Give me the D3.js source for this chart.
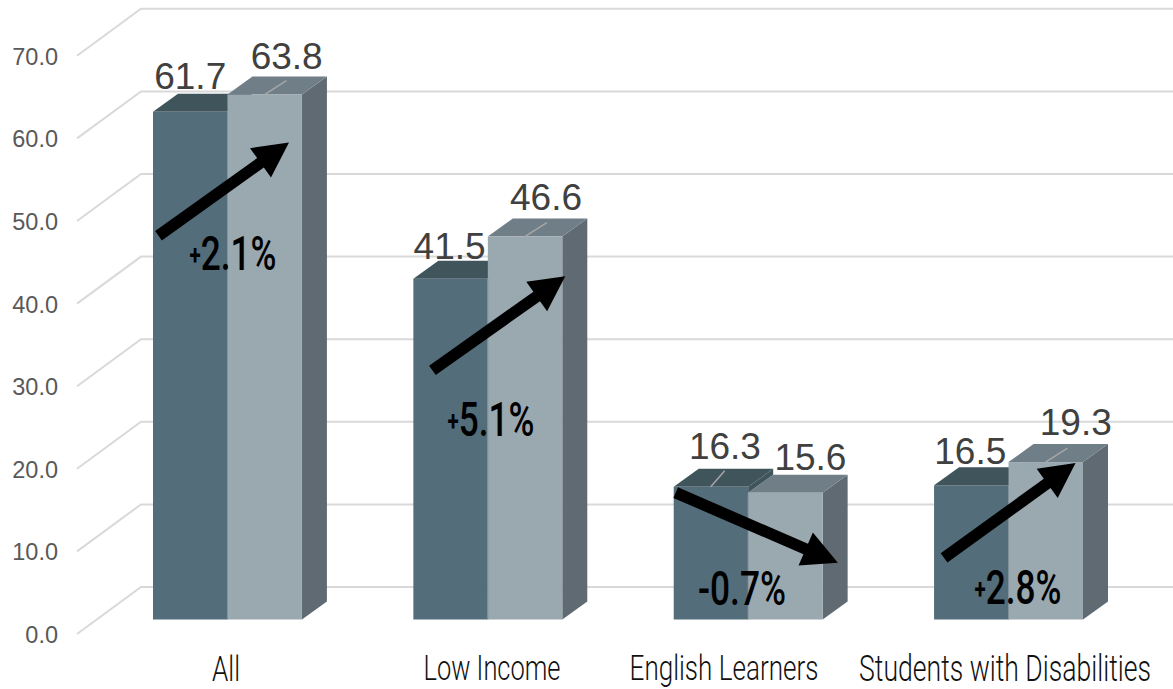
<!DOCTYPE html>
<html>
<head>
<meta charset="utf-8">
<script src="https://cdn.jsdelivr.net/npm/d3@7"></script>
<style>
html, body { margin: 0; padding: 0; background: #fff; overflow: hidden; }
svg { display: block; }
</style>
</head>
<body>
<svg id="chart" width="1173" height="689"></svg>
<script>
// values
var categories = ["All", "Low Income", "English Learners", "Students with Disabilities"];
var before = [61.7, 41.5, 16.3, 16.5];
var after = [63.8, 46.6, 15.6, 19.3];
var changes = ["2.1%", "5.1%", "-0.7%", "2.8%"];
var changeSigns = ["+", "+", "", "+"];
var tickValues = [0, 10, 20, 30, 40, 50, 60, 70];

// arrow ends: share of the group width, value on the y scale
var arrowFromX = [0.037, 0.128, 0.013, 0.067];
var arrowFromY = [46.7, 30.4, 15.6, 7.7];
var arrowToX = [0.913, 1.02, 1.102, 0.95];
var arrowToY = [58.0, 41.8, 7.1, 19.2];

// hand placed text, as in the original slide
var beforeLabelDx = [0, -1, 14, -1];
var beforeLabelDy = [23, 20, 28, 21];
var afterLabelDx = [22, 21, 25, 30];
var afterLabelDy = [26, 27, 23, 27];
var categoryX = [226, 492, 724, 1005];
var categoryY = [681, 680, 680, 681];
var categoryW = [28, 137, 189, 292];
var changeX = [233, 491, 742, 1018];
var changeW = [87, 87, 88, 87];
var changeY = [270, 436, 605, 604];

var colors = {
    grid: "#d9d9d9", tick: "#595959", value: "#404040",
    leftFront: "#546d7a", leftTop: "#40545b",
    rightFront: "#9aa8b0", rightTop: "#707f87", rightSide: "#5f6a72",
    leader: "#a6a6a6"
};

var svg = d3.select("#chart");
var cond = "Roboto, 'Liberation Sans Narrow', sans-serif";
var sans = "'Liberation Sans', Arial, sans-serif";

var depthX = 25, depthY = 18;       // bar depth
var y = d3.scaleLinear().domain([0, 70]).range([621.5, 621.5 - 8.26 * 70]);
var floorY = 619.5;
var yFront = y.copy().range(y.range().map(d => d + 12.5));
var yBack = y.copy().range(y.range().map(d => d - 34.5));
var xFront = 77, xBack = 141;

var x0 = d3.scaleBand().domain(categories).range([153, 1083]).paddingInner(0.428).paddingOuter(0);
var x1 = d3.scaleBand().domain(["before", "after"]).range([0, x0.bandwidth()]);

// grid: floor and wall lines
var grid = svg.append("g").attr("stroke", colors.grid).attr("stroke-width", 2).attr("fill", "none");
grid.selectAll("path").data(tickValues).join("path")
    .attr("d", d => "M" + xFront + "," + yFront(d) + "L" + xBack + "," + yBack(d) + "L1173," + yBack(d));

// y axis
var axis = svg.append("g").attr("transform", "translate(58,1)")
    .call(d3.axisLeft(yFront).tickValues(tickValues).tickSize(0).tickPadding(0).tickFormat(d3.format(".1f")));
axis.select(".domain").remove();
axis.selectAll("text").attr("fill", colors.tick).style("font-family", sans).style("font-size", "23.5px");

function poly(g, pts, fill) {
    g.append("polygon").attr("points", pts.map(p => p.join(",")).join(" ")).attr("fill", fill);
}

// one box, front + top + side
function drawBox(g, left, w, v, front, top, side) {
    var t = y(v), b = floorY;
    if (side) poly(g, [[left + w, t], [left + w + depthX, t - depthY], [left + w + depthX, b - depthY], [left + w, b]], side);
    poly(g, [[left, t], [left + depthX, t - depthY], [left + w + depthX, t - depthY], [left + w, t]], top);
    g.append("rect").attr("x", left).attr("y", t).attr("width", w).attr("height", b - t).attr("fill", front);
}

categories.forEach(function (c, i) {
    var g = svg.append("g");
    var left = x0(c), w = x1.bandwidth();
    var lx = left + x1("before"), rx = left + x1("after");
    drawBox(g, lx, w, before[i], colors.leftFront, colors.leftTop, null);
    drawBox(g, rx, w, after[i], colors.rightFront, colors.rightTop, colors.rightSide);
    // left box stands higher: its side shows above the right box
    if (before[i] > after[i]) {
        var a = y(before[i]), e = y(after[i]);
        poly(g, [[rx, a], [rx + depthX, a - depthY], [rx + depthX, e - depthY], [rx, e]], colors.leftTop);
    }
    // thin seam between boxes
    g.append("line").attr("x1", rx).attr("x2", rx)
        .attr("y1", y(Math.min(before[i], after[i]))).attr("y2", floorY)
        .attr("stroke", "#7f929c").attr("stroke-width", 1);
});

// leader lines left on the bar tops
var leaders = [[0, "after"], [1, "after"], [2, "before"], [3, "after"]];
svg.append("g").selectAll("line").data(leaders).join("line")
    .attr("stroke", colors.leader).attr("stroke-width", 1.5)
    .attr("x1", d => x0(categories[d[0]]) + x1(d[1]) + 37)
    .attr("y1", d => y(d[1] == "before" ? before[d[0]] : after[d[0]]))
    .attr("x2", d => x0(categories[d[0]]) + x1(d[1]) + (d[1] == "before" ? 51 : 59))
    .attr("y2", d => y(d[1] == "before" ? before[d[0]] : after[d[0]]) - (d[1] == "before" ? 16 : 14));

// value labels
function valueLabels(vals, series, dx, dy) {
    svg.append("g").selectAll("text").data(vals).join("text")
        .attr("x", (d, i) => x0(categories[i]) + x1(series) + x1.bandwidth() / 2 + dx[i])
        .attr("y", (d, i) => y(d) - dy[i])
        .attr("text-anchor", "middle")
        .attr("fill", colors.value)
        .style("font-family", sans).style("font-size", "37px")
        .text(d => d.toFixed(1));
}
valueLabels(before, "before", beforeLabelDx, beforeLabelDy);
valueLabels(after, "after", afterLabelDx, afterLabelDy);

// arrows
var shaft = 11.5, headW = 36, headL = 35;
svg.append("g").selectAll("polygon").data(categories).join("polygon")
    .attr("fill", "#000")
    .attr("points", function (c, i) {
        var ax = x0(c) + arrowFromX[i] * x0.bandwidth(), ay = y(arrowFromY[i]);
        var bx = x0(c) + arrowToX[i] * x0.bandwidth(), by = y(arrowToY[i]);
        var len = Math.hypot(bx - ax, by - ay), ux = (bx - ax) / len, uy = (by - ay) / len;
        var nx = -uy, ny = ux, hx = bx - ux * headL, hy = by - uy * headL;
        return [
            [ax + nx * shaft / 2, ay + ny * shaft / 2],
            [hx + nx * shaft / 2, hy + ny * shaft / 2],
            [hx + nx * headW / 2, hy + ny * headW / 2],
            [bx, by],
            [hx - nx * headW / 2, hy - ny * headW / 2],
            [hx - nx * shaft / 2, hy - ny * shaft / 2],
            [ax - nx * shaft / 2, ay - ny * shaft / 2]
        ].map(p => p.join(",")).join(" ");
    });

// squeeze a label to the width it has in the picture
function squeeze(sel, cx, by, w) {
    var len = sel.node().getComputedTextLength();
    sel.attr("text-anchor", "middle").attr("transform", "translate(" + cx + "," + by + ") scale(" + (w / len) + ",1)");
}

// category names
categories.forEach(function (c, i) {
    var t = svg.append("text").attr("fill", "#111")
        .style("font-family", cond).style("font-weight", 300).style("font-size", "36px").text(c);
    squeeze(t, categoryX[i], categoryY[i], categoryW[i]);
});

// change labels
changes.forEach(function (c, i) {
    var t = svg.append("text").attr("fill", "#000")
        .style("font-family", cond).style("font-weight", 500).style("font-size", "48px");
    if (changeSigns[i]) t.append("tspan").style("font-size", "28px").style("font-weight", 700).attr("dy", -5).text(changeSigns[i]);
    t.append("tspan").attr("dy", changeSigns[i] ? 5 : 0).text(c);
    squeeze(t, changeX[i], changeY[i], changeW[i]);
});
</script>
</body>
</html>
